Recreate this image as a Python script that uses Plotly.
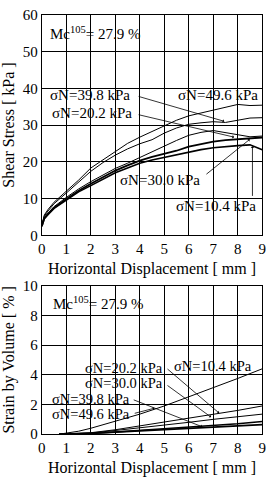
import plotly.graph_objects as go

# ---------------- data ----------------
disp = [0, 0.1, 0.25, 0.5, 1.0, 1.5, 2.0, 2.5, 3.0, 3.5, 4.0, 4.5, 5.0, 5.5, 6.0, 6.5, 7.0, 7.5, 8.0, 8.5, 9.0]
tau_496 = [2.8, 5.5, 7.0, 9.0, 12.0, 15.0, 18.3, 20.5, 22.8, 25.0, 26.7, 28.3, 29.8, 31.3, 32.5, 33.3, 34.1, 34.8, 35.6, 35.3, 35.4]
tau_398 = [2.7, 5.2, 6.6, 8.6, 11.5, 14.4, 17.4, 19.8, 21.8, 23.5, 24.9, 26.0, 27.8, 29.2, 30.2, 30.6, 30.9, 30.7, 31.3, 31.9, 32.0]
tau_202 = [2.6, 4.8, 6.0, 7.8, 10.3, 12.6, 14.6, 16.4, 18.2, 19.6, 21.2, 22.8, 24.3, 25.8, 27.2, 28.0, 28.5, 28.0, 27.3, 26.8, 27.0]
tau_300 = [2.5, 4.6, 5.8, 7.5, 9.9, 12.1, 14.0, 15.8, 17.6, 19.0, 20.3, 21.3, 22.1, 23.0, 24.1, 24.9, 25.5, 25.9, 26.2, 26.4, 26.6]
tau_104 = [2.4, 4.5, 5.6, 7.3, 9.6, 11.8, 13.5, 15.3, 17.0, 18.3, 19.6, 20.5, 21.2, 22.0, 22.8, 23.3, 23.8, 24.2, 24.4, 24.6, 23.3]

vdisp = [0.7, 1.5, 2.0, 3.0, 4.0, 5.0, 6.0, 7.0, 8.0, 9.0]
ev_104 = [0.0, 0.20, 0.40, 0.85, 1.35, 1.90, 2.50, 3.10, 3.75, 4.40]
ev_202 = [0.0, 0.05, 0.10, 0.30, 0.55, 0.80, 1.05, 1.30, 1.60, 1.90]
ev_300 = [0.0, 0.04, 0.08, 0.25, 0.42, 0.60, 0.80, 1.00, 1.17, 1.35]
ev_398 = [0.0, 0.02, 0.05, 0.15, 0.25, 0.35, 0.45, 0.58, 0.70, 0.85]
ev_496 = [0.0, 0.02, 0.06, 0.14, 0.22, 0.30, 0.38, 0.45, 0.55, 0.65]

x_ticks = [0, 1, 2, 3, 4, 5, 6, 7, 8, 9]
top_ticks = [0, 10, 20, 30, 40, 50, 60]
bot_ticks = [0, 2, 4, 6, 8, 10]

mc_text = "Mc<sup>105</sup>= 27.9 %"

# label: (text, x, y, tail_x, tail_y, head_x, head_y) ; head None -> no arrow
top_labels = [
    ("σN=39.8 kPa", 0.24, 38.2, 3.89, 37.9, 7.45, 31.0),
    ("σN=20.2 kPa", 0.32, 33.2, 3.89, 32.9, 7.85, 26.7),
    ("σN=49.6 kPa", 5.47, 38.2, None, None, None, None),
    ("σN=30.0 kPa", 3.13, 15.0, 6.66, 16.3, 8.49, 26.1),
    ("σN=10.4 kPa", 5.39, 7.9, 8.6, 10.3, 8.6, 24.2),
]
bot_labels = [
    ("σN=20.2 kPa", 1.70, 4.47, 5.07, 4.47, 7.24, 1.42),
    ("σN=30.0 kPa", 1.70, 3.43, 5.07, 3.35, 6.91, 1.15),
    ("σN=39.8 kPa", 0.32, 2.35, 3.69, 2.35, 6.55, 0.50),
    ("σN=49.6 kPa", 0.32, 1.38, 3.73, 1.38, 4.6, 1.75),
    ("σN=10.4 kPa", 5.30, 4.62, None, None, None, None),
]

FONT = "Liberation Serif, Times New Roman, DejaVu Serif, serif"
fig = go.Figure()

top_series = [tau_496, tau_398, tau_202, tau_300, tau_104]
top_widths = [1, 1, 1, 1.8, 1.6]
for s, w in zip(top_series, top_widths):
    fig.add_trace(go.Scatter(x=disp, y=s, mode="lines", line=dict(color="black", width=w),
                             xaxis="x", yaxis="y", showlegend=False))

bot_series = [ev_104, ev_202, ev_300, ev_398, ev_496]
bot_widths = [1, 1, 1, 1.6, 1.8]
for s, w in zip(bot_series, bot_widths):
    fig.add_trace(go.Scatter(x=vdisp, y=s, mode="lines", line=dict(color="black", width=w),
                             xaxis="x2", yaxis="y2", showlegend=False))

ann = []
def add_labels(labels, xr, yr, size):
    for t, x, y, tx, ty, hx, hy in labels:
        ann.append(dict(text=t, x=x, y=y, xref=xr, yref=yr, xanchor="left", yanchor="middle",
                        showarrow=False, font=dict(family=FONT, size=size, color="black")))
        if hx is not None:
            ann.append(dict(text="", x=hx, y=hy, ax=tx, ay=ty, xref=xr, yref=yr, axref=xr, ayref=yr,
                            showarrow=True, arrowhead=1, arrowsize=0.7, arrowwidth=0.8,
                            arrowcolor="black"))

add_labels(top_labels, "x", "y", 15)
add_labels(bot_labels, "x2", "y2", 14.5)
ann.append(dict(text=mc_text, x=0.24, y=55, xref="x", yref="y", xanchor="left", yanchor="middle",
                showarrow=False, font=dict(family=FONT, size=15, color="black")))
ann.append(dict(text=mc_text, x=0.36, y=8.83, xref="x2", yref="y2", xanchor="left", yanchor="middle",
                showarrow=False, font=dict(family=FONT, size=15, color="black")))

axis_common = dict(showgrid=True, gridcolor="black", gridwidth=1, showline=True, linecolor="black",
                   linewidth=1, mirror=True, zeroline=False, ticks="",
                   tickfont=dict(family=FONT, size=15, color="black"))

fig.update_layout(
    width=274, height=487,
    margin=dict(l=0, r=0, t=0, b=0),
    paper_bgcolor="white", plot_bgcolor="white",
    font=dict(family=FONT, size=15, color="black"),
    xaxis=dict(domain=[0.1423, 0.9708], range=[0, 9], tickvals=x_ticks, anchor="y",
               title=dict(text="Horizontal Displacement [ mm ]", font=dict(family=FONT, size=16), standoff=6),
               **axis_common),
    yaxis=dict(domain=[0.5175, 0.9856], range=[0, 60], tickvals=top_ticks, anchor="x",
               title=dict(text="Shear Stress [ kPa ]", font=dict(family=FONT, size=16), standoff=4),
               **axis_common),
    xaxis2=dict(domain=[0.1423, 0.9708], range=[0, 9], tickvals=x_ticks, anchor="y2",
                title=dict(text="Horizontal Displacement [ mm ]", font=dict(family=FONT, size=16), standoff=6),
                **axis_common),
    yaxis2=dict(domain=[0.0951, 0.4107], range=[0, 10], tickvals=bot_ticks, anchor="x2",
                title=dict(text="Strain by Volume [ % ]", font=dict(family=FONT, size=16), standoff=4),
                **axis_common),
    annotations=ann,
)

fig.write_html("out.html")
